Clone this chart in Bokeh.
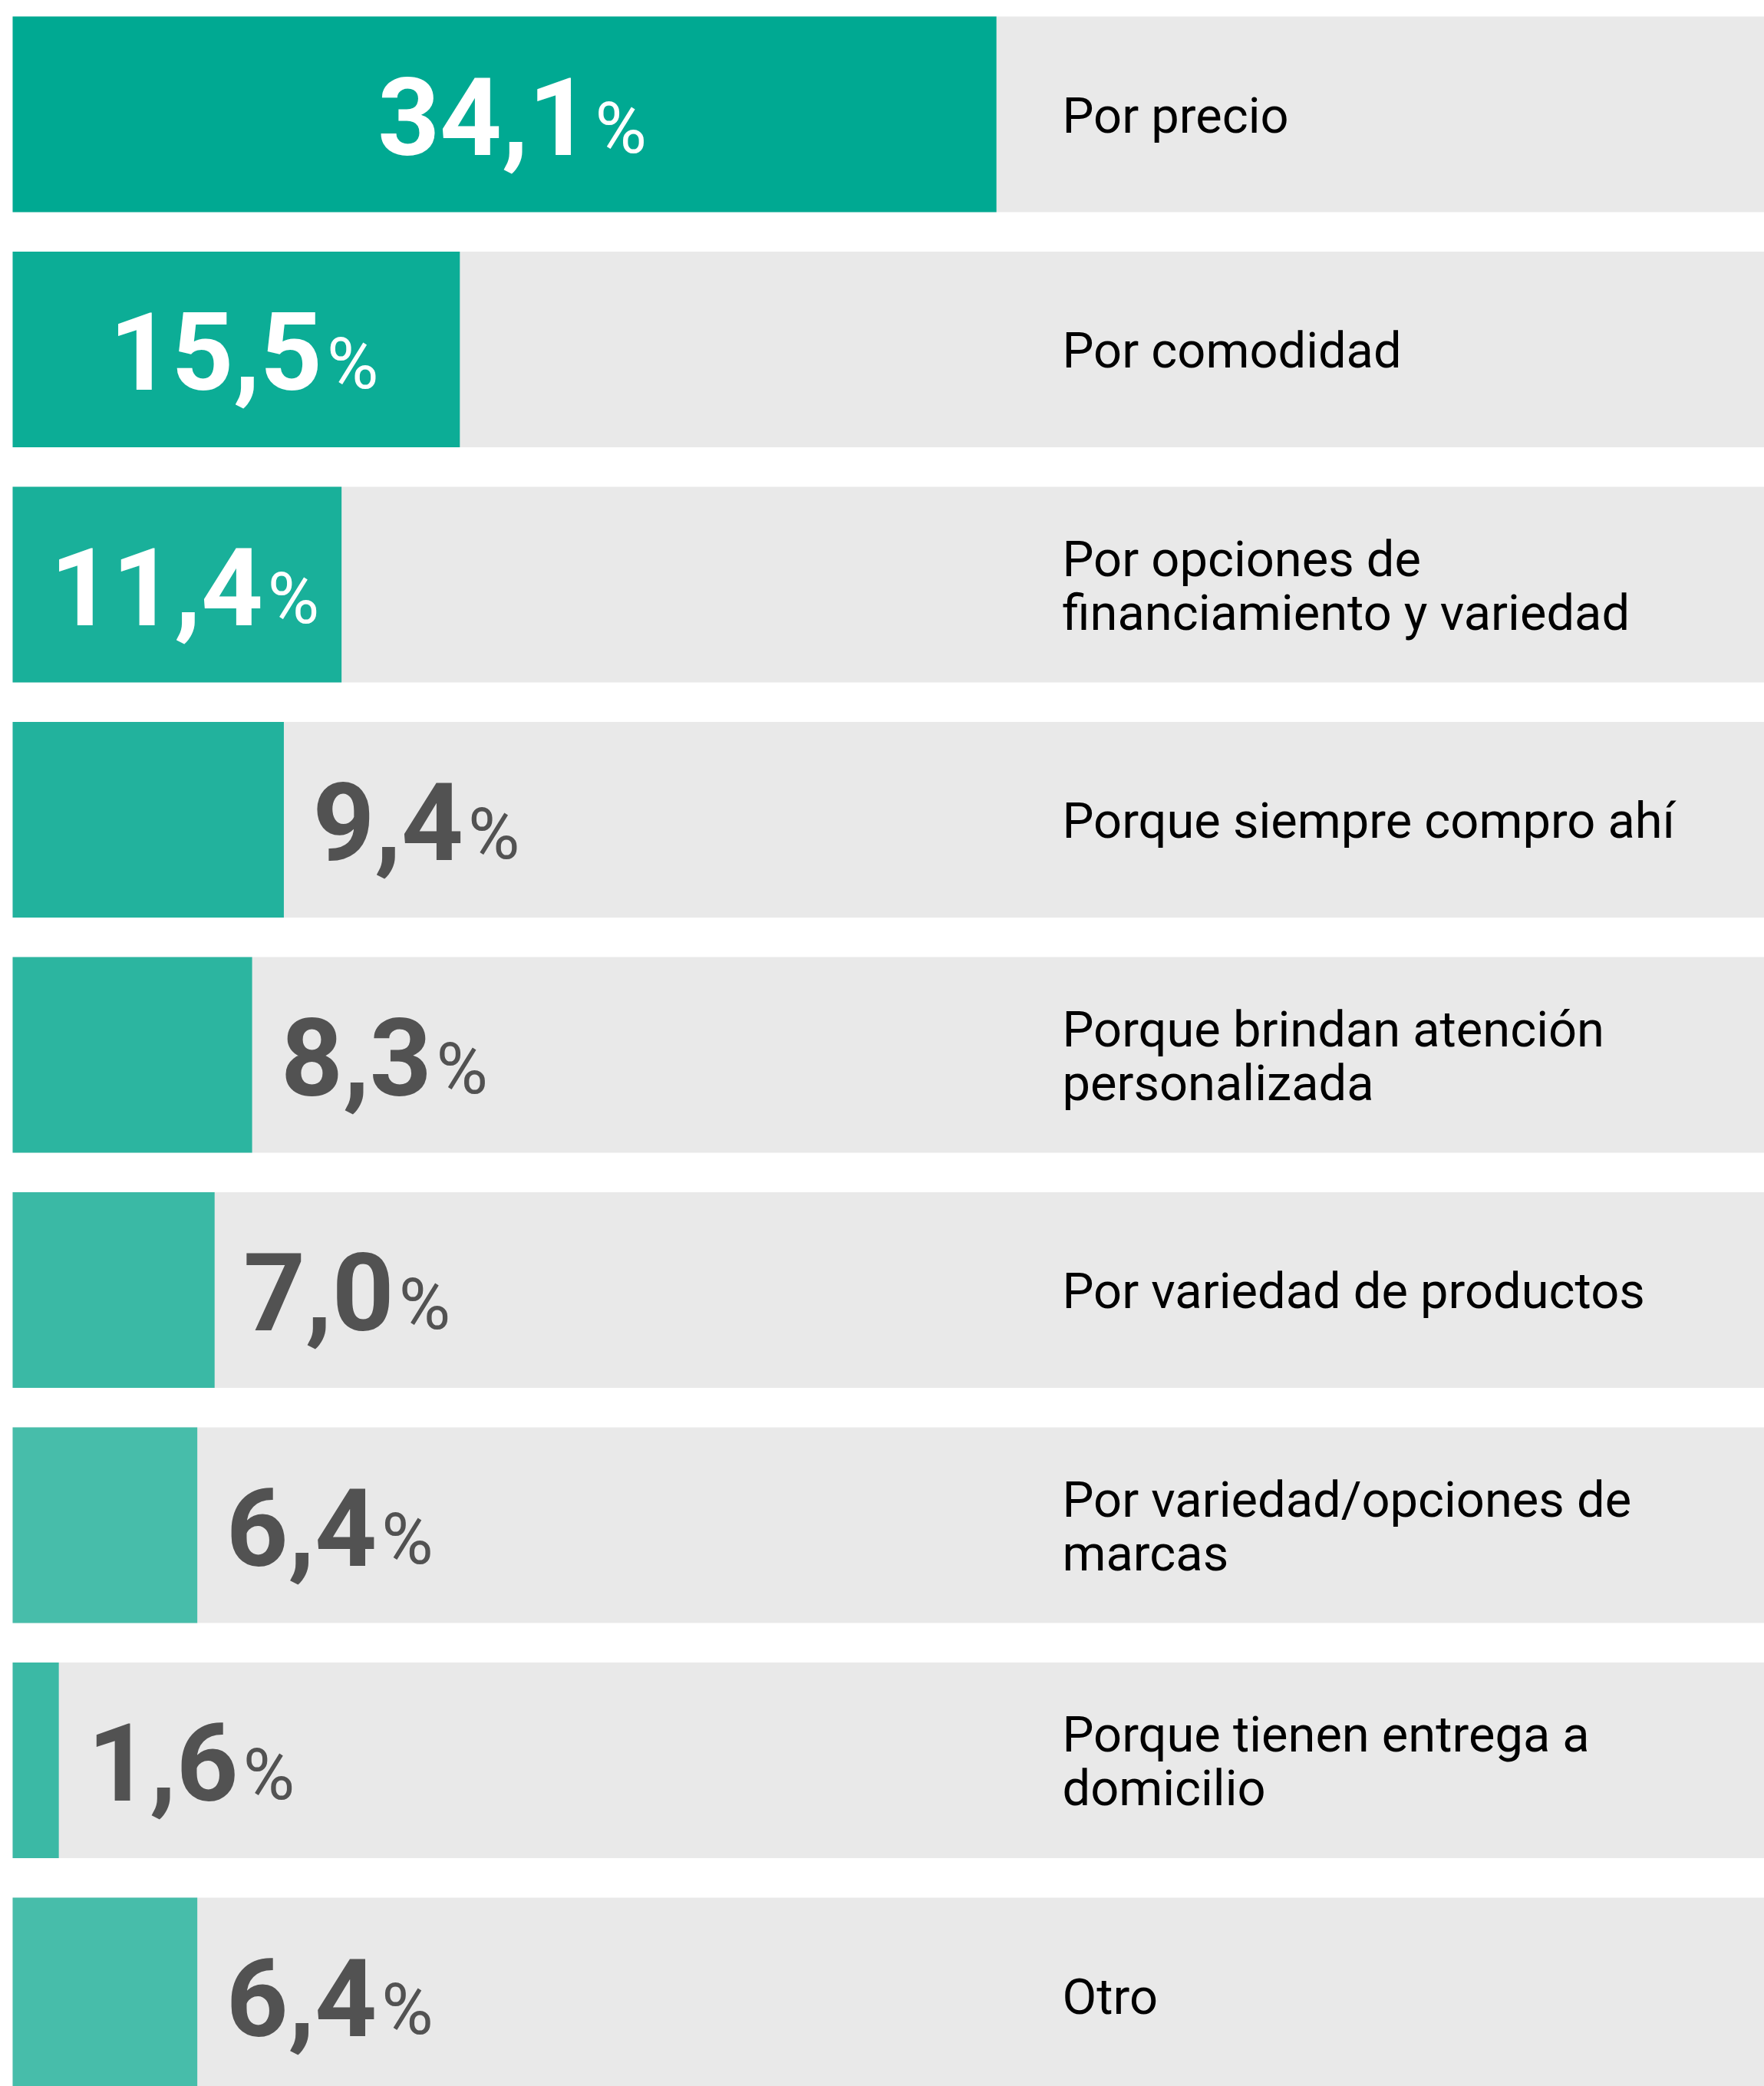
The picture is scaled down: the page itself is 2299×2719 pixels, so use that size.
from bokeh.plotting import figure
from bokeh.models import Range1d, ColumnDataSource
from bokeh.core.properties import value
from bokeh.embed import file_html
from bokeh.resources import INLINE

# ---- data ----
categories = [
    "Por precio",
    "Por comodidad",
    "Por opciones de\nfinanciamiento  y variedad",
    "Porque siempre compro ahí",
    "Porque brindan atención\npersonalizada",
    "Por variedad de productos",
    "Por variedad/opciones de\nmarcas",
    "Porque tienen entrega a\ndomicilio",
    "Otro",
]
values = [34.1, 15.5, 11.4, 9.4, 8.3, 7.0, 6.4, 1.6, 6.4]
value_labels = ["34,1", "15,5", "11,4", "9,4", "8,3", "7,0", "6,4", "1,6", "6,4"]
bar_colors = ["#00A992", "#0CAD96", "#19B09A", "#22B29D", "#2CB5A0",
              "#3AB9A5", "#47BDAA", "#3BB9A5", "#47BDAA"]

# ---- layout constants ----
W, H = 2299, 2719
K = 37.6          # px per percent
PITCH = 306.5     # px per row
BAR_H = 255 / PITCH
LEFT_PAD = 16
TOP_CENTER = 148.5
INSIDE_MIN = 10
LABEL_X = (1384 - LEFT_PAD) / K
DESC = 0.34       # baseline correction (fraction of font size)

NUM_SIZE = 141
PCT_SIZE = 92
CAT_SIZE = 65

x0 = -LEFT_PAD / K
x1 = (W - LEFT_PAD) / K
y1 = TOP_CENTER / PITCH
y0 = y1 - H / PITCH

p = figure(width=W, height=H, output_backend="svg", toolbar_location=None,
           x_range=Range1d(x0, x1), y_range=Range1d(y0, y1),
           min_border=0, background_fill_color="white", border_fill_color="white")
p.axis.visible = False
p.xgrid.visible = False
p.ygrid.visible = False
p.outline_line_color = None

ys = [-i for i in range(len(values))]

# background bars
p.hbar(y=ys, left=0, right=x1 + 1, height=BAR_H, fill_color="#E9E9E9", line_color=None)
# value bars
p.hbar(y=ys, left=0, right=values, height=BAR_H, fill_color=bar_colors, line_color=None)

# value labels
inside = [i for i, v in enumerate(values) if v >= INSIDE_MIN]
outside = [i for i, v in enumerate(values) if v < INSIDE_MIN]

NUM_FONT = value("Roboto")
src_in = ColumnDataSource(dict(x=[values[i] / 2 for i in inside], y=[ys[i] for i in inside],
                               t=[value_labels[i] for i in inside]))
src_out = ColumnDataSource(dict(x=[values[i] for i in outside], y=[ys[i] for i in outside],
                                t=[value_labels[i] for i in outside]))

BASE = 50  # baseline below row centre, px
for src, col, off in [(src_in, "white", 112), (src_out, "#525252", 234)]:
    p.text(x="x", y="y", text="t", source=src, text_font=NUM_FONT, text_font_style="bold",
           text_font_size=f"{NUM_SIZE}px", text_color=col, text_align="right",
           text_baseline="alphabetic", x_offset=off, y_offset=BASE - DESC * NUM_SIZE)
    p.text(x="x", y="y", text=value("%"), source=src, text_font=NUM_FONT,
           text_font_size=f"{PCT_SIZE}px", text_color=col, text_align="left",
           text_baseline="alphabetic", x_offset=off + 6, y_offset=BASE - DESC * PCT_SIZE)

# category labels (split into lines)
LINE_GAP = 70
CAT_BASE = 24
cx, cy, ct, coff = [], [], [], []
for i, c in enumerate(categories):
    lines = c.split("\n")
    n = len(lines)
    for j, ln in enumerate(lines):
        cx.append(LABEL_X)
        cy.append(ys[i])
        ct.append(ln)
        coff.append(CAT_BASE - DESC * CAT_SIZE + (j - (n - 1) / 2) * LINE_GAP)

p.text(x=cx, y=cy, text=ct, y_offset=coff, text_font=value("Roboto"),
       text_font_size=f"{CAT_SIZE}px", text_color="#000000", text_align="left",
       text_baseline="alphabetic")

open("out.html", "w").write(file_html(p, INLINE))
